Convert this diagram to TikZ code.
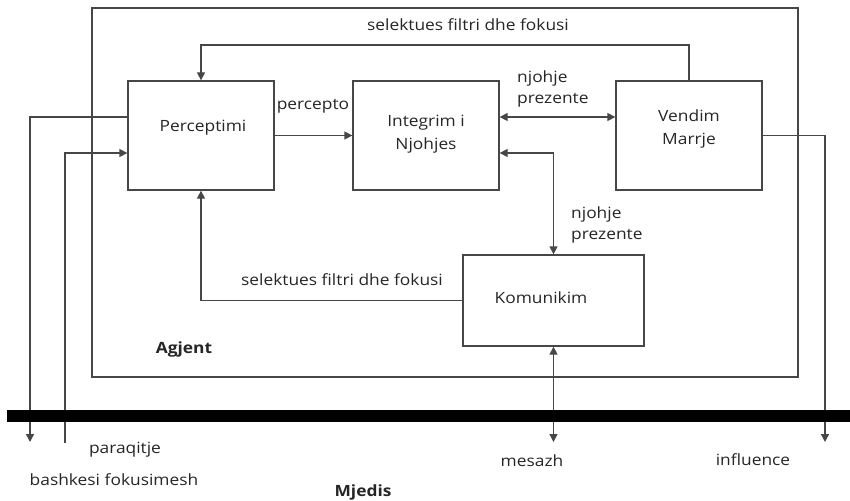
\documentclass[tikz,border=0pt]{standalone}
\usepackage{fontspec}
\setmainfont{Open Sans}[FakeStretch=1.12]
\usetikzlibrary{arrows.meta}
\begin{document}
\begin{tikzpicture}[x=1pt,y=-1pt,
  font=\fontsize{15.5}{18}\selectfont,
  wire/.style={draw=black!72,line width=1.3pt},
  arr/.style={wire,-{Triangle[length=8pt,width=8pt]}},
  darr/.style={wire,{Triangle[length=8pt,width=8pt]}-{Triangle[length=8pt,width=8pt]}},
  block/.style={draw=black!72,line width=1.3pt,rectangle,minimum width=146pt,minimum height=109pt,inner sep=0pt},
  lbl/.style={inner sep=0pt,text=black!85},
  head/.style={lbl,font=\fontsize{15.5}{18}\selectfont\bfseries}]
\useasboundingbox (0,0) rectangle (850,500);
% agent boundary
\node[draw=black!72,line width=1.3pt,rectangle,minimum width=706pt,minimum height=369pt,inner sep=0pt] (agent) at (445,192.5) {};
% processing blocks
\node[block] (P) at (201,135.5) {};
\node[block] (I) at (426,135.5) {};
\node[block] (V) at (689,135.5) {};
\node[block,minimum width=181pt,minimum height=91pt] (K) at (553.5,300.5) {};
\node[lbl] (Pt) at (203,128) {Perceptimi};
\node[lbl,align=center] (It) at (426,134) {Integrim i\\[5pt]Njohjes};
\node[lbl,align=center] (Vt) at (689,129) {Vendim\\[5pt]Marrje};
\node[lbl] (Kt) at (541,298) {Komunikim};
% free ends
\coordinate (tf) at (201,45);
\coordinate (o1) at (30,442);
\coordinate (i1) at (65,443);
\coordinate (o2) at (825,442);
\coordinate (o3) at (553.5,442);
% connectors
\draw[arr] (V.north) -- (V.north |- tf) -- (tf) -- (P.north);
\draw[arr] (P.east) -- (I.west);
\draw[darr] ([yshift=18.5pt]I.east) -- ([yshift=18.5pt]V.west);
\draw[darr] ([yshift=-17.5pt]I.east) -| (K.north);
\draw[arr] (K.west) -| (P.south);
\draw[arr] ([yshift=18.5pt]P.west) -| (o1);
\draw[arr] (i1) |- ([yshift=-17.5pt]P.west);
\draw[arr] (V.east) -| (o2);
\draw[darr] (K.south) -- (o3);
% environment boundary
\draw[line width=12pt] (7,416) -- (850,416);
% labels
\node[lbl] (l1) at (468,25) {selektues filtri dhe fokusi};
\node[lbl] (l2) at (313,106) {percepto};
\node[lbl,anchor=west,align=left] (l3) at (517,89) {njohje\\[3pt]prezente};
\node[lbl,anchor=west,align=left] (l4) at (571,225) {njohje\\[3pt]prezente};
\node[lbl] (l5) at (342,280) {selektues filtri dhe fokusi};
\node[head] (ag) at (184,349) {Agjent};
\node[lbl] (l6) at (125,450) {paraqitje};
\node[lbl] (l7) at (114,480) {bashkesi fokusimesh};
\node[head] (mj) at (363,492) {Mjedis};
\node[lbl] (l8) at (532,461) {mesazh};
\node[lbl] (l9) at (753,460) {influence};
\end{tikzpicture}
\end{document}
